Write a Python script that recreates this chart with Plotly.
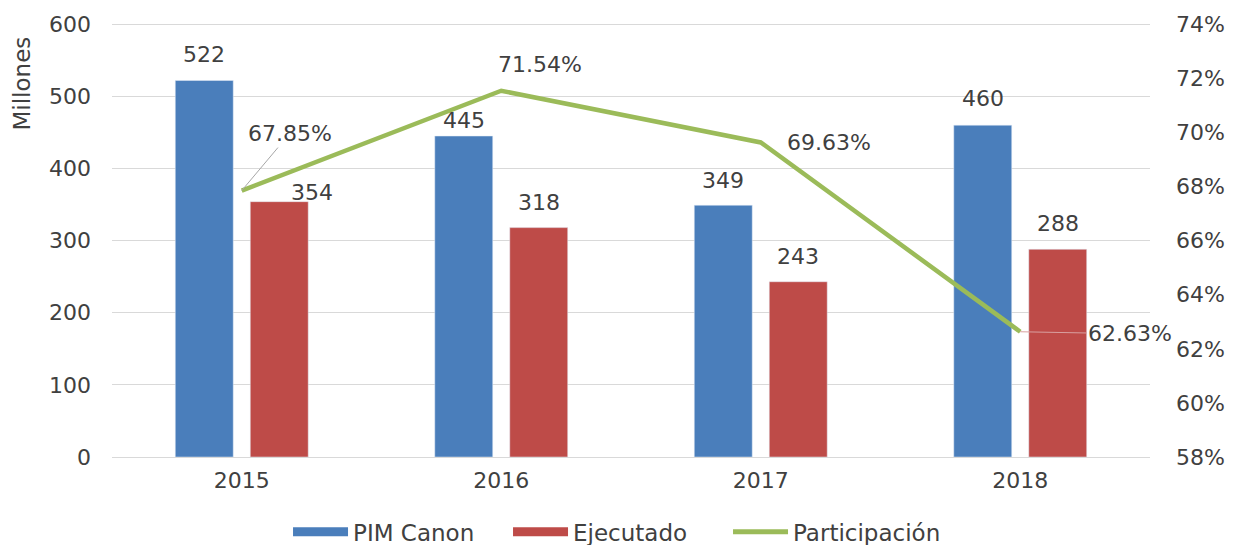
import plotly.graph_objects as go

years = ["2015", "2016", "2017", "2018"]
pim_canon = [522, 445, 349, 460]
ejecutado = [354, 318, 243, 288]
participacion = [0.6785, 0.7154, 0.6963, 0.6263]

# label placement (pixels)
pim_lab_dy = [26, 16, 25, 27]
eje_lab_dx = [33, 0, 0, 0]
eje_lab_dy = [9, 25, 25, 26]

BLUE = "#4a7ebb"
RED = "#be4b48"
GREEN = "#9bbb59"
TXT = "#404040"
FONT = "DejaVu Sans"
FS = 22
BAR_OFF = 37.5

Y1_MAX = 610
Y2_MIN, Y2_MAX = 0.58, 0.58 + 0.16 * Y1_MAX / 600

fig = go.Figure()
fig.add_trace(go.Bar(x=years, y=pim_canon, name="PIM Canon", marker_color=BLUE, yaxis="y",
                     showlegend=False))
fig.add_trace(go.Bar(x=years, y=ejecutado, name="Ejecutado", marker_color=RED, yaxis="y",
                     showlegend=False))
fig.add_trace(go.Scatter(x=years, y=participacion, name="Participación", mode="lines",
                         line=dict(color=GREEN, width=4.5), yaxis="y2", showlegend=False))
# legend-only entries (wide swatches like the original)
for nm, col in [("PIM Canon", BLUE), ("Ejecutado", RED), ("Participación", GREEN)]:
    fig.add_trace(go.Scatter(x=[None], y=[None], mode="lines", name=nm,
                             line=dict(color=col, width=9 if col != GREEN else 5)))

ann = []
for i, yr in enumerate(years):
    ann.append(dict(x=i, y=pim_canon[i], xref="x", yref="y", text=str(pim_canon[i]),
                    showarrow=False, xshift=-BAR_OFF, yshift=pim_lab_dy[i], yanchor="middle",
                    font=dict(family=FONT, size=FS, color=TXT)))
    ann.append(dict(x=i, y=ejecutado[i], xref="x", yref="y", text=str(ejecutado[i]),
                    showarrow=False, xshift=BAR_OFF + eje_lab_dx[i], yshift=eje_lab_dy[i],
                    yanchor="middle", font=dict(family=FONT, size=FS, color=TXT)))

pct_text = [f"{v*100:.2f}%" for v in participacion]
ann.append(dict(x=0, y=participacion[0], xref="x", yref="y2", text=pct_text[0],
                showarrow=True, arrowhead=0, arrowwidth=1, arrowcolor="#a6a6a6",
                ax=48, ay=-57, font=dict(family=FONT, size=FS, color=TXT)))
ann.append(dict(x=1, y=participacion[1], xref="x", yref="y2", text=pct_text[1],
                showarrow=False, xshift=39, yshift=26, font=dict(family=FONT, size=FS, color=TXT)))
ann.append(dict(x=2, y=participacion[2], xref="x", yref="y2", text=pct_text[2],
                showarrow=False, xshift=68, yshift=0, font=dict(family=FONT, size=FS, color=TXT)))
ann.append(dict(x=3, y=participacion[3], xref="x", yref="y2", text=pct_text[3],
                showarrow=True, arrowhead=0, arrowwidth=1, arrowcolor="#d9a0a0",
                ax=110, ay=2, font=dict(family=FONT, size=FS, color=TXT)))
ann.append(dict(x=-0.101, y=518, xref="paper", yref="y", text="Millones", textangle=-90,
                showarrow=False, font=dict(family=FONT, size=23, color=TXT)))

fig.update_layout(
    width=1235, height=545,
    margin=dict(l=104, r=93, t=9, b=96, autoexpand=False),
    paper_bgcolor="white", plot_bgcolor="white",
    barmode="group", bargap=0.422, bargroupgap=0.227,
    font=dict(family=FONT, size=FS, color=TXT),
    xaxis=dict(type="category", range=[-0.5, 3.5], showgrid=False, showline=False, ticks="",
               ticklabelstandoff=8, tickfont=dict(family=FONT, size=FS, color=TXT)),
    yaxis=dict(range=[0, Y1_MAX], tickvals=[0, 100, 200, 300, 400, 500, 600],
               showgrid=True, gridcolor="#d9d9d9", gridwidth=1,
               zeroline=True, zerolinecolor="#d9d9d9", zerolinewidth=1,
               showline=False, ticks="", ticklabelstandoff=20,
               tickfont=dict(family=FONT, size=FS, color=TXT)),
    yaxis2=dict(range=[Y2_MIN, Y2_MAX], tickvals=[0.58, 0.60, 0.62, 0.64, 0.66, 0.68, 0.70, 0.72, 0.74],
                tickformat=".0%", overlaying="y", side="right",
                showgrid=False, zeroline=False, showline=False, ticks="", ticklabelstandoff=25,
                tickfont=dict(family=FONT, size=FS, color=TXT)),
    legend=dict(orientation="h", x=0.4875, xanchor="center", y=-0.17, yanchor="middle",
                font=dict(family=FONT, size=23, color=TXT), itemwidth=55,
                entrywidth=150, entrywidthmode="pixels",
                bgcolor="rgba(0,0,0,0)"),
    annotations=ann,
    showlegend=True,
)

fig.write_html("out.html")
